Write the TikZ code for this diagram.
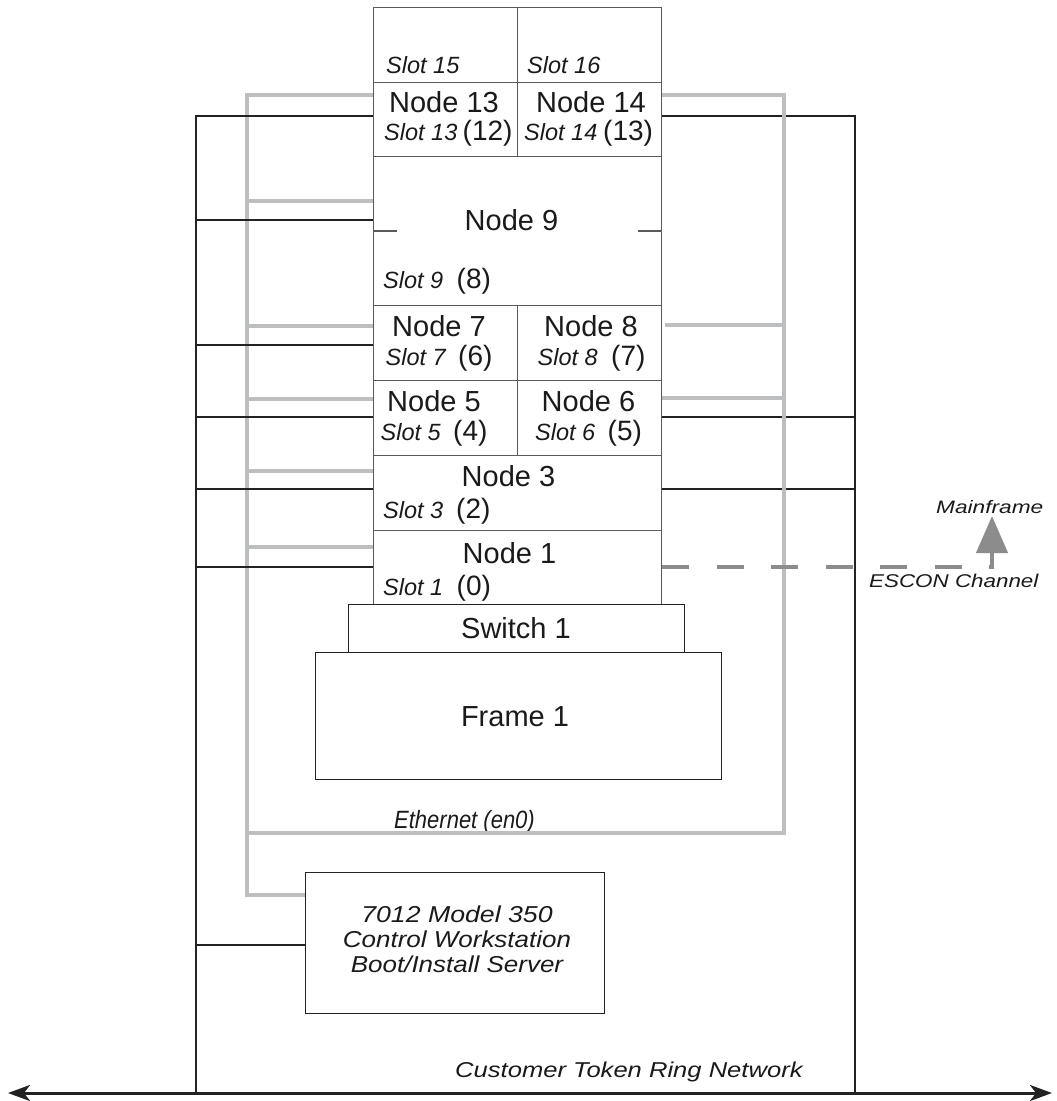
\documentclass[tikz,border=0pt]{standalone}
\usepackage{fontspec}
\usepackage{graphicx}
\setmainfont{Liberation Sans}
\usetikzlibrary{arrows.meta}
\definecolor{eth}{HTML}{BDBEC0}
\definecolor{esc}{HTML}{8C8C8C}
\definecolor{rk}{HTML}{5A5A5A}
\definecolor{tr}{HTML}{222222}
\definecolor{txt}{HTML}{1A1A1A}
\tikzset{
  cell/.style={draw=rk, line width=1.4pt, rectangle, inner sep=0pt, anchor=north west},
  tok/.style={draw=tr, line width=2.9pt},
  ethl/.style={draw=eth, line width=4.3pt},
  escl/.style={draw=esc, line width=4.5pt},
  nl/.style={font=\fontsize{29}{30}\selectfont, inner sep=0pt, anchor=base, text=txt},
  sl/.style={font=\fontsize{23.5}{24}\selectfont\itshape, inner sep=0pt, anchor=base west, text=txt},
  numl/.style={font=\fontsize{28}{30}\selectfont, inner sep=0pt, anchor=base west, text=txt},
  il/.style={inner sep=0pt, anchor=base west, text=txt},
}
\begin{document}
\begin{tikzpicture}[x=1pt,y=-1pt,line join=miter]
\useasboundingbox (0,0) rectangle (1057,1101);
\fill[white] (0,0) rectangle (1057,1101);

% ---------- rack cells ----------
\node[cell, minimum width=144pt, minimum height=75pt] (s15) at (373,7) {};
\node[cell, minimum width=144pt, minimum height=75pt] (s16) at (517,7) {};
\node[cell, minimum width=144pt, minimum height=74pt] (n13) at (373,82) {};
\node[cell, minimum width=144pt, minimum height=74pt] (n14) at (517,82) {};
\node[cell, minimum width=288pt, minimum height=149pt] (n9) at (373,156) {};
\node[cell, minimum width=144pt, minimum height=75pt] (n7) at (373,305) {};
\node[cell, minimum width=144pt, minimum height=75pt] (n8) at (517,305) {};
\node[cell, minimum width=144pt, minimum height=75pt] (n5) at (373,380) {};
\node[cell, minimum width=144pt, minimum height=75pt] (n6) at (517,380) {};
\node[cell, minimum width=288pt, minimum height=75pt] (n3) at (373,455) {};
\node[cell, minimum width=288pt, minimum height=74pt] (n1) at (373,530) {};
\node[cell, draw=tr, minimum width=336pt, minimum height=48pt] (sw) at (348,604) {};
\node[cell, draw=tr, minimum width=406pt, minimum height=127pt] (fr) at (315,652) {};
\node[cell, draw=tr, minimum width=299pt, minimum height=141pt] (ws) at (305,872) {};

% ticks inside node 9
\draw[rk, line width=1.4pt] (n9.west |- 0,231) -- ++(24,0);
\draw[rk, line width=1.4pt] (n9.east |- 0,231) -- ++(-24,0);

% ---------- labels ----------
\node[sl] at (386,73) {Slot 15};
\node[sl] at (527,73) {Slot 16};
\node[nl] at (444,112) {Node 13};
\node[nl] at (591,112) {Node 14};
\node[sl] at (384,140) {Slot 13};   \node[numl] at (462.5,140) {(12)};
\node[sl] at (524,140) {Slot 14};   \node[numl] at (603,140) {(13)};
\node[nl] at (511.5,230) {Node 9};
\node[sl] at (383,288) {Slot 9};    \node[numl] at (456.5,288) {(8)};
\node[nl] at (439,336.5) {Node 7};
\node[nl] at (591,336.5) {Node 8};
\node[sl] at (385.5,365) {Slot 7};  \node[numl] at (458,365) {(6)};
\node[sl] at (537.5,365) {Slot 8};  \node[numl] at (611,365) {(7)};
\node[nl] at (434,411.5) {Node 5};
\node[nl] at (588.5,411.5) {Node 6};
\node[sl] at (380.5,440) {Slot 5};  \node[numl] at (453,440) {(4)};
\node[sl] at (535,440) {Slot 6};    \node[numl] at (607.5,440) {(5)};
\node[nl] at (508.5,486) {Node 3};
\node[sl] at (383,518) {Slot 3};    \node[numl] at (456,518) {(2)};
\node[nl] at (509.5,563.5) {Node 1};
\node[sl] at (383,595) {Slot 1};    \node[numl] at (456.5,595) {(0)};
\node[nl] at (516,638.5) {Switch 1};
\node[nl] at (515,726) {Frame 1};

\node[il, font=\fontsize{25}{26}\selectfont\itshape] at (394,828) {\scalebox{0.88}[1]{Ethernet (en0)}};
\node[inner sep=0pt, anchor=base, text=txt, font=\fontsize{23}{24}\selectfont\itshape] at (457,922) {\scalebox{1.16}[1]{7012 Model 350}};
\node[inner sep=0pt, anchor=base, text=txt, font=\fontsize{23}{24}\selectfont\itshape] at (457,947) {\scalebox{1.13}[1]{Control Workstation}};
\node[inner sep=0pt, anchor=base, text=txt, font=\fontsize{23}{24}\selectfont\itshape] at (457,972) {\scalebox{1.13}[1]{Boot/Install Server}};
\node[il, font=\fontsize{21.5}{22}\selectfont\itshape] at (455,1077) {\scalebox{1.19}[1]{Customer Token Ring Network}};
\node[il, font=\fontsize{18}{19}\selectfont\itshape] at (936,513) {\scalebox{1.26}[1]{Mainframe}};
\node[il, font=\fontsize{18.5}{19}\selectfont\itshape] at (869,587) {\scalebox{1.21}[1]{ESCON Channel}};

% ---------- bus coordinates ----------
\coordinate (trL) at (8,1093);
\coordinate (trR) at (1052,1093);
\coordinate (lbT) at (196,116);
\coordinate (rbT) at (855,116);
\coordinate (leT) at (247,95);
\coordinate (reT) at (784,95);
\coordinate (eBot) at (247,833);
\coordinate (eWs) at (247,895);
\coordinate (escC) at (992,567);
\coordinate (escT) at (992,516);

% right token ring (drawn under the ethernet)
\draw[tok] (n14.east |- rbT) -- (rbT) -- (rbT |- trL);
\draw[tok] (n6.east |- 0,417) -- (rbT |- 0,417);
\draw[tok] (n3.east |- 0,489) -- (rbT |- 0,489);

% ethernet
\draw[ethl] (n13.west |- leT) -- (leT) -- (eWs) -- (eWs -| ws.west);
\draw[ethl] (leT |- 0,201) -- (n9.west |- 0,201);
\draw[ethl] (leT |- 0,326) -- (n7.west |- 0,326);
\draw[ethl] (leT |- 0,399) -- (n5.west |- 0,399);
\draw[ethl] (leT |- 0,471) -- (n3.west |- 0,471);
\draw[ethl] (leT |- 0,547) -- (n1.west |- 0,547);
\draw[ethl] (eBot) -- (reT |- eBot) -- (reT) -- (n14.east |- reT);
\draw[ethl] (reT |- 0,325) -- ([xshift=3pt]n8.east |- 0,325);
\draw[ethl] (reT |- 0,398) -- (n6.east |- 0,398);

% left token ring
\draw[tok] (n13.west |- lbT) -- (lbT) -- (lbT |- trL);
\draw[tok] (lbT |- 0,220) -- (n9.west |- 0,220);
\draw[tok] (lbT |- 0,345) -- (n7.west |- 0,345);
\draw[tok] (lbT |- 0,417) -- (n5.west |- 0,417);
\draw[tok] (lbT |- 0,489) -- (n3.west |- 0,489);
\draw[tok] (lbT |- 0,567) -- (n1.west |- 0,567);
\draw[tok] (lbT |- 0,945) -- (ws.west |- 0,945);
\draw[tok, line width=3pt, {Stealth[length=22pt,width=16pt,inset=6pt]}-{Stealth[length=22pt,width=16pt,inset=6pt]}] (trL) -- (trR);

% ESCON channel
\draw[escl, dash pattern=on 27pt off 27.5pt] (n1.east |- escC) -- (escC);
\draw[escl, -{Triangle[length=37pt,width=31pt]}] ([yshift=-2pt]escC) -- (escT);
\end{tikzpicture}
\end{document}
